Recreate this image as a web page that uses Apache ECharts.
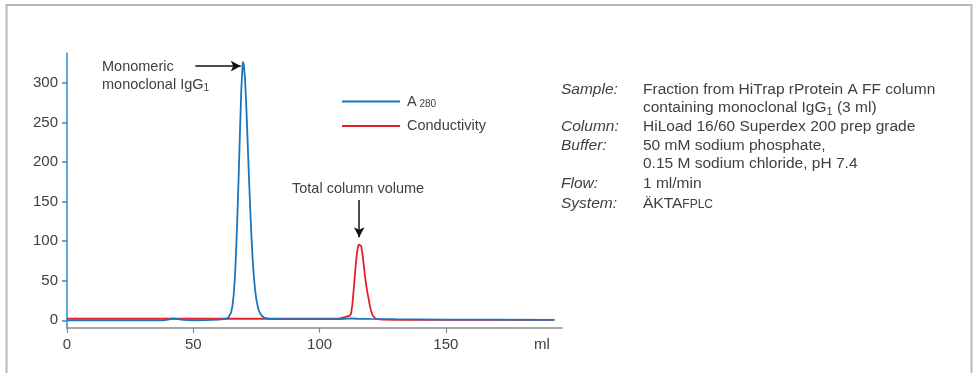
<!DOCTYPE html>
<html><head><meta charset="utf-8">
<script src="https://cdn.jsdelivr.net/npm/echarts@6/dist/echarts.min.js"></script>
<style>html,body{margin:0;padding:0;background:#fff}#c{width:974px;height:373px}</style>
</head><body><div id="c"></div>
<script>
// A280 trace (ml, mAU)
const a280Vol = [0,10,20,30,38,40,42,44,46,50,55,60,62,63,64,65,65.5,66,66.5,67,67.5,68,68.5,69,69.5,69.7,70,70.5,71,71.5,72,72.5,73,73.5,74,74.5,75,75.5,76,77,78,79,80,85,90,100,108,110,112,115,120,130,150,170,193];
const a280Abs = [0,0,0,0,0,1,2.5,1.5,0.5,0,0.3,1,1.5,2,4,10,18,32,55,90,135,185,240,290,322,327,323,305,270,228,185,145,108,78,55,38,26,18,12,6,3.5,2.5,2,1.5,1.5,1.5,1.5,2,2.5,2,1.8,1.5,1,0.8,0.5];
// Conductivity trace
const condVol = [0,50,100,105,108,110,111,112,112.5,113,113.5,114,114.5,115,115.5,116,116.5,117,117.5,118,118.5,119,119.5,120,120.5,121,121.5,122,123,125,130,150,193];
const condVal = [2,2,2,2,2.5,4,5,6,9,20,38,58,76,89,96,97.5,94,84,70,56,44,34,26,17,11,6.5,4,2.5,1.5,1,0.5,0.5,0.5];
const yTicks = [0,50,100,150,200,250,300];
const xTicks = [0,50,100,150];
const xUnitPos = 188;
const legendNames = ['A280','Conductivity'];
const infoLabels = ['Sample:','','Column:','Buffer:','','Flow:','System:'];
const infoValues = ['Fraction from HiTrap rProtein A FF column','containing monoclonal IgG{s|1} (3 ml)','HiLoad 16/60 Superdex 200 prep grade','50 mM sodium phosphate,','0.15 M sodium chloride, pH 7.4','1 ml/min','ÄKTA{sc|FPLC}'];

const FONT = 'Liberation Sans, Arial, sans-serif';
const TXT = '#404040';
const zip = (a,b)=>a.map((v,i)=>[v,b[i]]);

const chart = echarts.init(document.getElementById('c'));
const graphics = [
  {type:'rect', shape:{x:6.5,y:5,width:965,height:400}, style:{fill:'none',stroke:'#b8b8b8',lineWidth:2}, silent:true},
  {type:'text', x:102, y:76, style:{text:'Monomeric\nmonoclonal IgG{s|1}', font:'14.5px '+FONT, fill:TXT, lineHeight:18, verticalAlign:'middle',
     rich:{s:{fontSize:10, fontFamily:FONT, fill:TXT, padding:[6,0,0,0]}}}},
  {type:'text', x:292, y:188.5, style:{text:'Total column volume', font:'14.5px '+FONT, fill:TXT, verticalAlign:'middle'}}
];
const rowY = [89.5,108,127,145.5,164,184,203.5];
infoLabels.forEach((t,i)=>{
  if(t) graphics.push({type:'text', x:561, y:rowY[i], style:{text:t, font:'italic 15.5px '+FONT, fill:TXT, verticalAlign:'middle'}});
  graphics.push({type:'text', x:643, y:rowY[i], style:{text:infoValues[i], font:'15.5px '+FONT, fill:TXT, verticalAlign:'middle',
    rich:{s:{fontSize:11,fontFamily:FONT,fill:TXT,padding:[8,0,0,0]}, sc:{fontSize:12,fontFamily:FONT,fill:TXT,padding:[3,0,0,0]}}}});
});

chart.setOption({
  animation:false,
  grid:{left:67, right:412, top:53, bottom:45},
  legend:{orient:'vertical', left:337, top:89, itemWidth:58, itemHeight:2, itemGap:9, icon:'rect',
    data:legendNames,
    formatter:n=> n==='A280' ? '{a|A}{s| 280}' : '{a|'+n+'}',
    textStyle:{color:TXT, fontFamily:FONT, fontSize:14.5, padding:[0,0,0,2],
      rich:{a:{fontSize:14.5,fontFamily:FONT,color:TXT}, s:{fontSize:10,fontFamily:FONT,color:TXT,padding:[6,0,0,0]}}}},
  xAxis:{type:'value', min:0, max:196,
    axisLine:{onZero:false, lineStyle:{color:'#8a8a8a', width:1.5}},
    axisTick:{customValues:xTicks, length:5, lineStyle:{color:'#8a8a8a', width:1.2}},
    axisLabel:{customValues:xTicks.concat([xUnitPos]), formatter:v=> v===xUnitPos?'ml':String(v), color:TXT, fontFamily:FONT, fontSize:15, margin:9},
    splitLine:{show:false}},
  yAxis:{type:'value', min:-9.7, max:338,
    axisLine:{show:true, lineStyle:{color:'#2a8ad4', width:1.5}},
    axisTick:{show:true, customValues:yTicks, length:5, lineStyle:{color:'#2a8ad4', width:1.5}},
    axisLabel:{customValues:yTicks, color:TXT, fontFamily:FONT, fontSize:15, margin:9},
    splitLine:{show:false}},
  graphic:graphics,
  series:[
    {name:'A280', type:'line', data:zip(a280Vol,a280Abs), showSymbol:false, lineStyle:{color:'#1b75bc', width:1.8}, itemStyle:{color:'#1b75bc'}, z:3,
     markLine:{silent:true, symbol:['none','arrow'], symbolSize:[8,10], label:{show:false}, lineStyle:{color:'#111', width:1.5, type:'solid'},
       data:[[{coord:[50.8,321.5]},{coord:[68.8,321.5]}]]}},
    {name:'Conductivity', type:'line', data:zip(condVol,condVal), showSymbol:false, lineStyle:{color:'#e51f2b', width:1.8}, itemStyle:{color:'#e51f2b'}, z:2,
     markLine:{silent:true, symbol:['none','arrow'], symbolSize:[8,10], label:{show:false}, lineStyle:{color:'#111', width:1.5, type:'solid'},
       data:[[{coord:[115.7,152]},{coord:[115.7,105]}]]}}
  ]
});
</script></body></html>
